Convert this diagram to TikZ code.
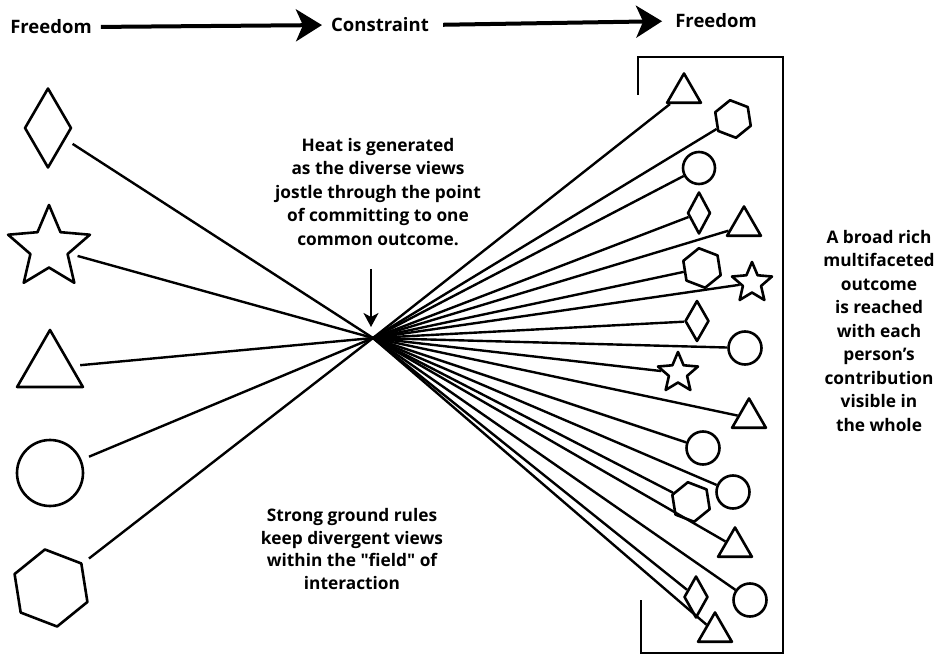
\documentclass[tikz,border=0pt]{standalone}
\usepackage{fontspec}
\setmainfont{Open Sans}[Ligatures=TeXOff]
\usetikzlibrary{shapes.geometric,arrows.meta}
\begin{document}
\begin{tikzpicture}[x=1pt,y=-1pt,
  shp/.style={draw, line width=2.6pt, inner sep=0pt, fill=white, line join=round},
  tri/.style={shp, regular polygon, regular polygon sides=3, minimum size=#1},
  hexa/.style={shp, regular polygon, regular polygon sides=6, minimum size=#1, rotate=-21},
  circ/.style={shp, circle, minimum size=#1},
  starr/.style={shp, star, star points=5, star point ratio=2.2, minimum size=#1},
  dia/.style 2 args={shp, diamond, minimum width=#1, minimum height=#2},
  ray/.style={line width=2.4pt},
  lray/.style={ray, shorten <=8pt},
  lbl/.style={font=\fontsize{17.3}{23.5}\selectfont\bfseries, align=center, inner sep=0pt},
  hdr/.style={font=\fontsize{18.5}{23}\selectfont\bfseries, inner sep=0pt},
  bigarrow/.style={line width=4pt, -{Stealth[length=26pt,width=32pt,inset=7pt]}}
]
\useasboundingbox (0,0) rectangle (935,655);

% header
\node[hdr] (fr1) at (51,27) {Freedom};
\node[hdr] (con) at (380,25) {Constraint};
\node[hdr] (fr2) at (716,21) {Freedom};
\draw[bigarrow, shorten <=9pt, shorten >=9pt] (fr1.east) -- (con.west);
\draw[bigarrow, shorten <=14pt, shorten >=13pt] (con.east) -- (fr2.west);

% centre
\coordinate (c) at (373,338);

% left shapes
\node[dia={47pt}{80pt}] (ldia) at (48,128) {};
\node[starr=86pt] (lstar) at (49,248) {};
\node[tri=76pt] (ltri) at (50,368) {};
\node[circ=66pt] (lcirc) at (50,473) {};
\node[hexa=78pt] (lhex) at (51,588) {};

\foreach \s in {ldia,lstar,ltri,lcirc,lhex} \draw[lray] (\s) -- (c);

% right shapes
\node[tri=39pt] (r1) at (684,93) {};
\node[hexa=38pt] (r2) at (733,119) {};
\node[circ=32pt] (r3) at (699,168) {};
\node[dia={23pt}{42pt}] (r4) at (699,213) {};
\node[tri=39pt] (r5) at (744,226) {};
\node[hexa=40pt] (r6) at (702,268) {};
\node[starr=42pt] (r7) at (752,283) {};
\node[dia={24pt}{41pt}] (r8) at (697,321) {};
\node[circ=33pt] (r9) at (745,348) {};
\node[starr=42pt] (r10) at (678,373) {};
\node[tri=39pt] (r11) at (749,418) {};
\node[circ=33pt] (r12) at (703,448) {};
\node[circ=33pt] (r13) at (733,492) {};
\node[hexa=40pt] (r14) at (691,502) {};
\node[tri=39pt] (r15) at (735,547) {};
\node[circ=33pt] (r16) at (750,600) {};
\node[dia={24pt}{42pt}] (r17) at (696,597) {};
\node[tri=39pt] (r18) at (715,632) {};

\foreach \s in {r1,r2,r3,r4,r5,r6,r7,r8,r9,r10,r11,r12,r13,r14,r15,r16,r17,r18} \draw[ray] (c) -- (\s);

% bracket
\draw[line width=2.8pt] (638,95) -- (638,57) -- (783,57) -- (783,653) -- (641,653) -- (641,600);

% texts
\node[lbl] (heat) at (378,192) {Heat is generated\\as the diverse views\\jostle through the point\\of committing to one\\common outcome.};
\coordinate (va) at (371,269);
\coordinate (vb) at (371,327);
\draw[line width=2.2pt, -{Stealth[length=14pt,width=15pt,inset=4pt]}] (va) -- (vb);

\node[lbl, font=\fontsize{17.3}{22.5}\selectfont\bfseries] (rules) at (352,549) {Strong ground rules\\keep divergent views\\within the "field" of\\interaction};

\node[lbl] (outc) at (879,331) {A broad rich\\multifaceted\\outcome\\is reached\\with each\\person’s\\contribution\\visible in\\the whole};
\end{tikzpicture}
\end{document}
